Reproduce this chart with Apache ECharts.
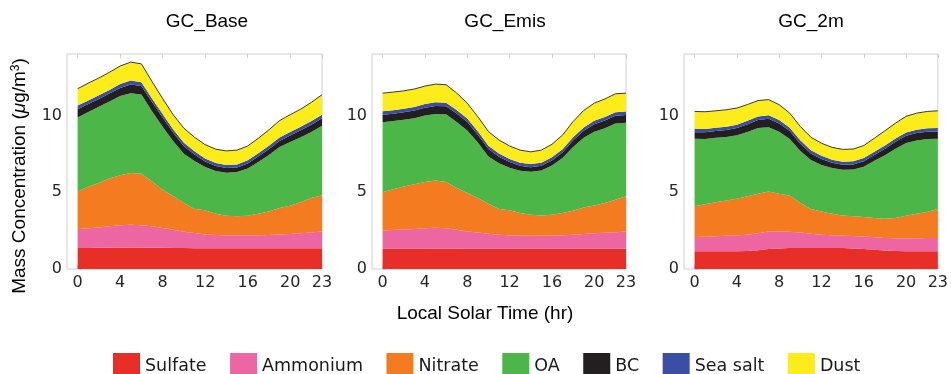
<!DOCTYPE html>
<html><head><meta charset="utf-8">
<script src="https://cdn.jsdelivr.net/npm/echarts@6/dist/echarts.min.js"></script>
<style>html,body{margin:0;padding:0;background:#fff}#c{width:951px;height:374px}</style>
</head><body><div id="c"></div>
<script>
const hours = [0,1,2,3,4,5,6,7,8,9,10,11,12,13,14,15,16,17,18,19,20,21,22,23];
const xTickLabels = [0,4,8,12,16,20,23];
const yTickLabels = [0,5,10];
const species = ['Sulfate','Ammonium','Nitrate','OA','BC','Sea salt','Dust'];
const panelTitles = ['GC_Base','GC_Emis','GC_2m'];

const baseSulfate  = [1.36,1.37,1.38,1.39,1.40,1.40,1.40,1.39,1.38,1.37,1.36,1.35,1.35,1.35,1.35,1.35,1.35,1.35,1.35,1.35,1.35,1.35,1.35,1.35];
const baseAmmonium = [1.24,1.28,1.32,1.39,1.45,1.48,1.45,1.39,1.29,1.18,1.07,0.99,0.90,0.87,0.85,0.85,0.85,0.85,0.87,0.90,0.93,0.97,1.03,1.10];
const baseNitrate  = [2.45,2.70,2.90,3.12,3.25,3.37,3.35,2.92,2.49,2.18,1.87,1.56,1.57,1.38,1.27,1.23,1.27,1.40,1.53,1.72,1.84,2.02,2.24,2.35];
const baseOA       = [4.81,4.88,4.97,5.00,5.16,5.20,5.16,4.57,4.11,3.59,3.20,3.13,2.83,2.78,2.80,2.88,3.08,3.37,3.67,3.97,4.15,4.24,4.30,4.52];
const baseBC       = [0.55,0.52,0.50,0.52,0.53,0.57,0.55,0.60,0.60,0.55,0.50,0.42,0.35,0.32,0.30,0.30,0.32,0.35,0.38,0.40,0.42,0.45,0.48,0.50];
const baseSeaSalt  = [0.23,0.23,0.24,0.24,0.25,0.25,0.25,0.24,0.23,0.22,0.22,0.21,0.20,0.20,0.20,0.20,0.21,0.21,0.22,0.22,0.23,0.23,0.23,0.23];
const baseDust     = [1.10,1.12,1.13,1.15,1.18,1.20,1.20,1.10,1.00,0.95,0.95,0.92,0.90,0.90,0.92,0.93,0.93,0.98,1.04,1.10,1.13,1.15,1.22,1.30];

const emisSulfate  = [1.32,1.32,1.32,1.32,1.33,1.33,1.33,1.33,1.32,1.32,1.32,1.32,1.32,1.32,1.32,1.32,1.32,1.32,1.32,1.32,1.32,1.32,1.32,1.32];
const emisAmmonium = [1.19,1.22,1.25,1.28,1.32,1.35,1.32,1.23,1.13,1.05,0.98,0.91,0.88,0.86,0.85,0.85,0.85,0.88,0.91,0.96,1.00,1.04,1.08,1.13];
const emisNitrate  = [2.48,2.66,2.81,2.92,3.02,3.08,3.02,2.72,2.50,2.25,1.95,1.67,1.62,1.46,1.37,1.32,1.37,1.44,1.57,1.73,1.82,1.93,2.11,2.28];
const emisOA       = [4.57,4.43,4.34,4.30,4.33,4.34,4.40,4.30,4.07,3.61,3.08,2.99,2.78,2.75,2.79,2.93,3.20,3.58,4.14,4.53,4.80,4.88,4.97,4.79];
const emisBC       = [0.48,0.48,0.48,0.50,0.50,0.52,0.52,0.55,0.55,0.52,0.48,0.42,0.36,0.33,0.30,0.30,0.32,0.36,0.42,0.46,0.48,0.50,0.50,0.50];
const emisSeaSalt  = [0.23,0.23,0.23,0.23,0.24,0.24,0.24,0.23,0.23,0.22,0.22,0.21,0.21,0.20,0.20,0.20,0.21,0.21,0.22,0.22,0.23,0.23,0.23,0.23];
const emisDust     = [1.18,1.18,1.17,1.17,1.17,1.18,1.17,1.10,1.00,0.95,0.92,0.88,0.84,0.82,0.80,0.82,0.85,0.93,1.02,1.10,1.15,1.17,1.20,1.20];

const m2Sulfate  = [1.15,1.15,1.15,1.15,1.16,1.17,1.22,1.30,1.34,1.36,1.36,1.36,1.36,1.36,1.36,1.34,1.30,1.26,1.21,1.18,1.15,1.15,1.15,1.15];
const m2Ammonium = [0.93,0.95,0.98,1.02,1.04,1.06,1.11,1.15,1.11,1.07,1.01,0.94,0.87,0.84,0.81,0.81,0.82,0.81,0.81,0.82,0.85,0.86,0.87,0.87];
const m2Nitrate  = [2.00,2.12,2.21,2.29,2.38,2.50,2.57,2.60,2.45,2.34,1.93,1.60,1.52,1.40,1.32,1.28,1.26,1.25,1.26,1.32,1.47,1.59,1.69,1.88];
const m2OA       = [4.40,4.25,4.21,4.14,4.13,4.19,4.28,4.18,4.03,3.69,3.38,3.20,3.03,2.97,2.97,3.05,3.28,3.73,4.13,4.51,4.73,4.77,4.75,4.58];
const m2BC       = [0.43,0.43,0.43,0.45,0.47,0.50,0.52,0.55,0.55,0.52,0.48,0.42,0.38,0.35,0.33,0.33,0.35,0.38,0.42,0.45,0.47,0.48,0.48,0.48];
const m2SeaSalt  = [0.22,0.22,0.22,0.22,0.22,0.23,0.23,0.23,0.22,0.22,0.22,0.21,0.21,0.20,0.20,0.20,0.21,0.21,0.22,0.22,0.22,0.22,0.22,0.22];
const m2Dust     = [1.13,1.12,1.10,1.10,1.08,1.06,1.04,1.02,1.00,0.95,0.90,0.85,0.82,0.80,0.80,0.80,0.82,0.88,0.95,1.00,1.05,1.08,1.10,1.12];

const panels = [
  [baseSulfate, baseAmmonium, baseNitrate, baseOA, baseBC, baseSeaSalt, baseDust],
  [emisSulfate, emisAmmonium, emisNitrate, emisOA, emisBC, emisSeaSalt, emisDust],
  [m2Sulfate, m2Ammonium, m2Nitrate, m2OA, m2BC, m2SeaSalt, m2Dust]
];
const colors = ['#e92d27','#ee66a1','#f47b20','#4cb748','#231f20','#3a4ea6','#fbec1a'];

const grids = [
  {left: 67, top: 54, width: 255, height: 215},
  {left: 372, top: 54, width: 254, height: 215},
  {left: 684, top: 54, width: 255, height: 215}
];
const titleX = [207, 505, 811];

const tickFont = {fontFamily: 'DejaVu Sans', fontSize: 16, color: '#262626'};
const frame = '#cfcfcf';

const option = {
  animation: false,
  backgroundColor: '#fff',
  color: colors,
  grid: grids.map(g => Object.assign({show: true, borderColor: frame, borderWidth: 1, backgroundColor: 'transparent'}, g)),
  xAxis: [],
  yAxis: [],
  series: [],
  legend: {
    left: 108, top: 348, orient: 'horizontal',
    itemWidth: 27, itemHeight: 26, itemGap: 23.5, icon: 'rect',
    data: species,
    textStyle: {fontFamily: 'DejaVu Sans', fontSize: 17.5, color: '#1a1a1a'}
  },
  graphic: []
};

panels.forEach((arrs, p) => {
  option.xAxis.push({
    gridIndex: p, type: 'value', min: -1, max: 23, position: 'bottom',
    axisLine: {show: false}, splitLine: {show: false},
    axisTick: {show: true, inside: true, length: 4, customValues: xTickLabels, lineStyle: {color: frame}},
    axisLabel: Object.assign({customValues: xTickLabels, margin: 6}, tickFont)
  });
  option.xAxis.push({
    gridIndex: p, type: 'value', min: -1, max: 23, position: 'top',
    axisLine: {show: false}, splitLine: {show: false},
    axisTick: {show: true, inside: true, length: 4, customValues: xTickLabels, lineStyle: {color: frame}},
    axisLabel: {show: false}
  });
  option.yAxis.push({
    gridIndex: p, type: 'value', min: 0, max: 14, position: 'left',
    axisLine: {show: false}, splitLine: {show: false},
    axisTick: {show: true, inside: true, length: 4, customValues: yTickLabels, lineStyle: {color: frame}},
    axisLabel: Object.assign({customValues: yTickLabels, margin: 5}, tickFont)
  });
  arrs.forEach((vals, s) => {
    const isTop = s === arrs.length - 1;
    option.series.push({
      name: species[s], type: 'line', xAxisIndex: p * 2, yAxisIndex: p,
      stack: 'panel' + p, symbol: 'none', smooth: false,
      // value first so that stacking is applied to the y dimension
      data: hours.map((h, i) => [vals[i], h]),
      encode: {x: 1, y: 0},
      itemStyle: {color: colors[s]},
      lineStyle: isTop ? {width: 1, color: '#3a3a3a'} : {width: 0, opacity: 0},
      areaStyle: {color: colors[s], opacity: 1},
      z: 2
    });
  });
  option.graphic.push({
    type: 'text', x: titleX[p], y: 22,
    style: {text: panelTitles[p], fill: '#000', font: '19px "Liberation Sans"', textAlign: 'center', textVerticalAlign: 'middle', align: 'center', verticalAlign: 'middle'}
  });
});

option.graphic.push({
  type: 'text', x: 485, y: 314,
  style: {text: 'Local Solar Time (hr)', fill: '#000', font: '19px "Liberation Sans"', textAlign: 'center', textVerticalAlign: 'middle', align: 'center', verticalAlign: 'middle'}
});
option.graphic.push({
  type: 'text', x: 20, y: 176, rotation: Math.PI / 2,
  style: {
    text: '{a|Mass Concentration (}{i|μ}{a|g/m}{s|3}{a|)}',
    fill: '#000', textAlign: 'center', textVerticalAlign: 'middle', align: 'center', verticalAlign: 'middle',
    rich: {
      a: {fontFamily: 'Liberation Sans', fontSize: 19, fill: '#000'},
      i: {fontFamily: 'Liberation Sans', fontSize: 19, fontStyle: 'italic', fill: '#000'},
      s: {fontFamily: 'Liberation Sans', fontSize: 12, fill: '#000', padding: [0, 0, 8, 0]}
    }
  }
});

const chart = echarts.init(document.getElementById('c'), null, {renderer: 'canvas'});
chart.setOption(option);
</script>
</body></html>
